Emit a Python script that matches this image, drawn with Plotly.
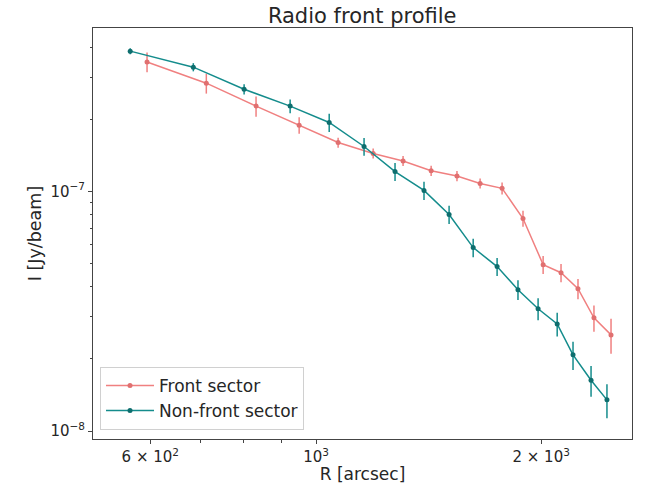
import plotly.graph_objects as go

# Data
front_r = [594, 713, 831, 949, 1070, 1192, 1307, 1425, 1543, 1657, 1773, 1891, 2012, 2126, 2240, 2353, 2480]
front_i = [3.47e-7, 2.83e-7, 2.27e-7, 1.89e-7, 1.60e-7, 1.44e-7, 1.34e-7, 1.22e-7, 1.16e-7,
           1.08e-7, 1.03e-7, 7.71e-8, 4.95e-8, 4.58e-8, 3.93e-8, 2.97e-8, 2.52e-8]
front_err = [3.3e-8, 2.7e-8, 2.2e-8, 1.5e-8, 7.7e-9, 6.9e-9, 6.4e-9, 5.9e-9, 5.6e-9,
             5.2e-9, 6.0e-9, 5.9e-9, 4.3e-9, 4.0e-9, 3.8e-9, 3.7e-9, 4.2e-9]

nonfront_r = [564, 685, 801, 923, 1041, 1159, 1275, 1394, 1506, 1622, 1746, 1862, 1981, 2101, 2206, 2332, 2449]
nonfront_i = [3.85e-7, 3.30e-7, 2.67e-7, 2.27e-7, 1.94e-7, 1.54e-7, 1.21e-7, 1.01e-7, 8.01e-8,
              5.83e-8, 4.86e-8, 3.89e-8, 3.24e-8, 2.80e-8, 2.08e-8, 1.63e-8, 1.35e-8]
nonfront_err = [1.1e-8, 1.3e-8, 1.3e-8, 1.5e-8, 1.7e-8, 1.3e-8, 1.05e-8, 8.8e-9, 7.0e-9,
                5.1e-9, 4.2e-9, 3.7e-9, 3.4e-9, 3.2e-9, 2.8e-9, 2.4e-9, 2.2e-9]

x_tickvals = [600, 1000, 2000]
x_ticktext = ["6 × 10<sup>2</sup>", "10<sup>3</sup>", "2 × 10<sup>3</sup>"]
x_minor = [600, 700, 800, 900, 2000]
y_tickvals = [1e-8, 1e-7]
y_ticktext = ["10<sup>−8</sup>", "10<sup>−7</sup>"]
y_minor = [2e-8, 3e-8, 4e-8, 5e-8, 6e-8, 7e-8, 8e-8, 9e-8, 2e-7, 3e-7, 4e-7]

FRONT = "#f08080"
NONFRONT = "#148c8c"
FONT = "DejaVu Sans"
TXT = "#262626"

fig = go.Figure()
fig.add_trace(go.Scatter(
    x=front_r, y=front_i, mode="lines+markers", name="Front sector",
    line=dict(color=FRONT, width=1.5),
    marker=dict(color="#e07070", size=5),
    error_y=dict(type="data", array=front_err, color=FRONT, thickness=1.5, width=0),
))
fig.add_trace(go.Scatter(
    x=nonfront_r, y=nonfront_i, mode="lines+markers", name="Non-front sector",
    line=dict(color=NONFRONT, width=1.5),
    marker=dict(color="#0e6e6e", size=5),
    error_y=dict(type="data", array=nonfront_err, color=NONFRONT, thickness=1.5, width=0),
))

axis_common = dict(
    showgrid=False, zeroline=False, showline=True, mirror=True, automargin=False,
    linecolor="#444444", linewidth=1, ticks="outside", ticklen=4, tickwidth=1,
    tickcolor="#444444", tickfont=dict(family=FONT, size=15, color=TXT),
)

fig.update_xaxes(
    type="log", range=[2.7015, 3.4225],
    tickvals=x_tickvals, ticktext=x_ticktext,
    minor=dict(tickvals=x_minor, ticklen=2.5, tickcolor="#444444", ticks="outside"),
    title=dict(text="R [arcsec]", font=dict(family=FONT, size=17, color=TXT), standoff=4),
    **axis_common,
)
fig.update_yaxes(
    type="log", range=[-8.033, -6.318],
    tickvals=y_tickvals, ticktext=y_ticktext,
    minor=dict(tickvals=y_minor, ticklen=2.5, tickcolor="#444444", ticks="outside"),
    title=dict(text="I [Jy/beam]", font=dict(family=FONT, size=17.5, color=TXT), standoff=4),
    **axis_common,
)

fig.update_layout(
    width=657, height=484,
    margin=dict(l=93, r=25, t=28, b=45),
    paper_bgcolor="white", plot_bgcolor="white",
    title=dict(text="Radio front profile", x=0.5513, xanchor="center", y=0.967, yanchor="middle",
               font=dict(family=FONT, size=21, color=TXT)),
    font=dict(family=FONT, color=TXT),
    showlegend=True,
    legend=dict(x=0.013, y=0.022, xanchor="left", yanchor="bottom",
                bgcolor="rgba(255,255,255,0.8)", bordercolor="#d0d0d0", borderwidth=1,
                font=dict(family=FONT, size=17, color=TXT),
                itemwidth=48, tracegroupgap=0),
)

fig.write_html("out.html", config={"displayModeBar": False},
               post_script="document.body.style.margin='0px';")
